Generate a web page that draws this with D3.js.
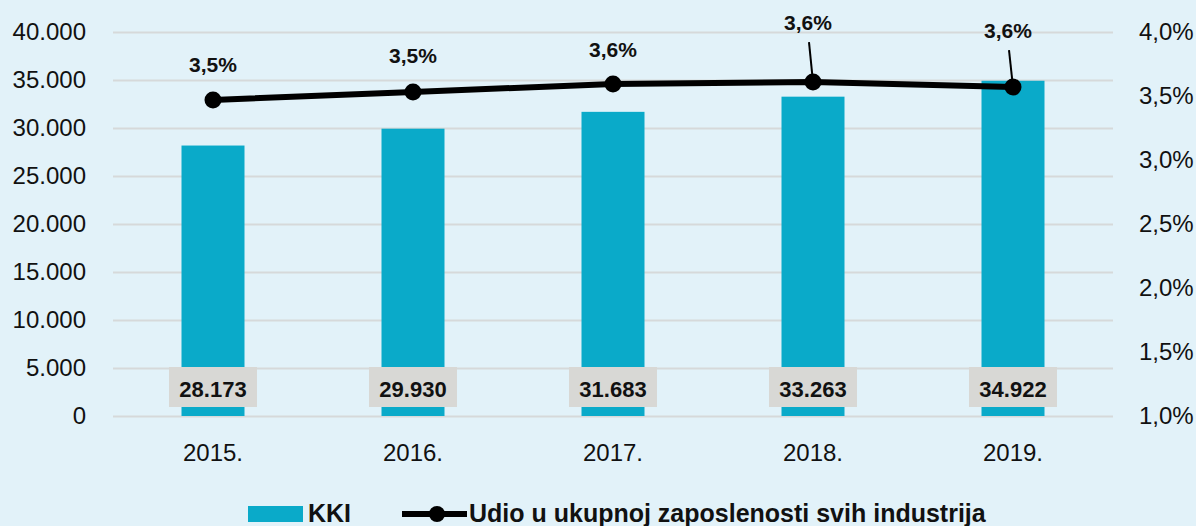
<!DOCTYPE html>
<html>
<head>
<meta charset="utf-8">
<script src="https://cdn.jsdelivr.net/npm/d3@7"></script>
<style>
  body { margin: 0; background: #e2f2f9; }
  svg { display: block; font-family: "Liberation Sans", Arial, sans-serif; }
  .axis text { fill: #111; font-size: 24px; }
  .grid line { stroke: #d6d9da; stroke-width: 2; }
</style>
</head>
<body>
<div id="chart"></div>
<script>
// Data
var years = ["2015.", "2016.", "2017.", "2018.", "2019."],
  kki = [28173, 29930, 31683, 33263, 34922],
  udio = [3.469, 3.531, 3.594, 3.609, 3.570],
  udioLabels = ["3,5%", "3,5%", "3,6%", "3,6%", "3,6%"],
  leftTicks = [0, 5000, 10000, 15000, 20000, 25000, 30000, 35000, 40000],
  rightTicks = [1.0, 1.5, 2.0, 2.5, 3.0, 3.5, 4.0];

// label offsets (the two last labels sit higher with leader lines)
var labelDy = [-28, -29, -27, -52, -49],
  leader = [false, false, false, true, true];

// Placement
var W = 1196, H = 526,
  pLeft = 113, pRight = 1113,
  pTop = 32, pBottom = 416;

var hr = d3.formatLocale({decimal: ",", thousands: ".", grouping: [3], currency: ["", ""]});
var fmtThousands = hr.format(",.0f"),
  fmtPct = hr.format(".1f");

var x = d3.scaleBand().domain(years).range([pLeft, pRight]);
var y = d3.scaleLinear().domain([0, 40000]).range([pBottom, pTop]);
var y2 = d3.scaleLinear().domain([1, 4]).range([pBottom, pTop]);

var barW = x.bandwidth() * 0.315;

var svg = d3.select("#chart")
  .append("svg")
  .attr("width", W)
  .attr("height", H);

svg.append("rect")
  .attr("width", W)
  .attr("height", H)
  .attr("fill", "#e2f2f9");

// gridlines
svg.append("g")
  .attr("class", "grid")
  .attr("transform", "translate(" + pLeft + ",0)")
  .call(d3.axisLeft(y).tickValues(leftTicks).tickSize(-(pRight - pLeft)).tickFormat(""))
  .select(".domain").remove();

// left axis
svg.append("g")
  .attr("class", "axis")
  .attr("transform", "translate(" + (pLeft - 27) + ",0)")
  .call(d3.axisLeft(y).tickValues(leftTicks).tickSize(0).tickPadding(0).tickFormat(fmtThousands))
  .call(function(g) { g.select(".domain").remove(); });

// right axis
svg.append("g")
  .attr("class", "axis")
  .attr("transform", "translate(" + (pRight + 26) + ",0)")
  .call(d3.axisRight(y2).tickValues(rightTicks).tickSize(0).tickPadding(0)
    .tickFormat(function(d) { return fmtPct(d) + "%"; }))
  .call(function(g) { g.select(".domain").remove(); });

// x axis labels
svg.append("g")
  .attr("class", "axis")
  .attr("transform", "translate(0," + (pBottom + 26) + ")")
  .call(d3.axisBottom(x).tickSize(0).tickPadding(0))
  .call(function(g) { g.select(".domain").remove(); })
  .selectAll("text").attr("dy", "0.8em");

// bars
svg.append("g").selectAll("rect")
  .data(kki)
  .enter().append("rect")
  .attr("x", function(d, i) { return x(years[i]) + x.bandwidth() / 2 - barW / 2; })
  .attr("y", function(d) { return y(d); })
  .attr("width", barW)
  .attr("height", function(d) { return pBottom - y(d); })
  .attr("fill", "#0aaac9");

// bar value labels
var bl = svg.append("g").selectAll("g")
  .data(kki)
  .enter().append("g")
  .attr("transform", function(d, i) { return "translate(" + (x(years[i]) + x.bandwidth() / 2) + "," + (pBottom - 28) + ")"; });

bl.append("rect")
  .attr("x", -44)
  .attr("y", -21)
  .attr("width", 88)
  .attr("height", 40)
  .attr("fill", "#d8d8d5");

bl.append("text")
  .attr("text-anchor", "middle")
  .attr("y", 9)
  .attr("font-size", "22px")
  .attr("font-weight", "bold")
  .attr("fill", "#111")
  .text(function(d) { return fmtThousands(d); });

// line
var cx = function(i) { return x(years[i]) + x.bandwidth() / 2; };

svg.append("path")
  .datum(udio)
  .attr("fill", "none")
  .attr("stroke", "#000")
  .attr("stroke-width", 6)
  .attr("d", d3.line()
    .x(function(d, i) { return cx(i); })
    .y(function(d) { return y2(d); }));

// leader lines
svg.append("g").selectAll("line")
  .data(udio.map(function(d, i) { return {v: d, i: i}; }).filter(function(d) { return leader[d.i]; }))
  .enter().append("line")
  .attr("x1", function(d) { return cx(d.i) - 4; })
  .attr("y1", function(d) { return y2(d.v) + labelDy[d.i] + 12; })
  .attr("x2", function(d) { return cx(d.i); })
  .attr("y2", function(d) { return y2(d.v); })
  .attr("stroke", "#000")
  .attr("stroke-width", 2);

svg.append("g").selectAll("circle")
  .data(udio)
  .enter().append("circle")
  .attr("cx", function(d, i) { return cx(i); })
  .attr("cy", function(d) { return y2(d); })
  .attr("r", 8.5)
  .attr("fill", "#000");

svg.append("g").selectAll("text")
  .data(udio)
  .enter().append("text")
  .attr("x", function(d, i) { return cx(i) - (leader[i] ? 5 : 0); })
  .attr("y", function(d, i) { return y2(d) + labelDy[i]; })
  .attr("text-anchor", "middle")
  .attr("font-size", "21px")
  .attr("font-weight", "bold")
  .attr("fill", "#111")
  .text(function(d, i) { return udioLabels[i]; });

// legend
var lg = svg.append("g").attr("transform", "translate(0,514)");

lg.append("rect")
  .attr("x", 248).attr("y", -8)
  .attr("width", 55).attr("height", 16)
  .attr("fill", "#0aaac9");

lg.append("text")
  .attr("x", 308).attr("y", 8)
  .attr("font-size", "25px").attr("font-weight", "bold").attr("fill", "#111")
  .text("KKI");

lg.append("line")
  .attr("x1", 402).attr("x2", 467)
  .attr("stroke", "#000").attr("stroke-width", 6);

lg.append("circle")
  .attr("cx", 437).attr("r", 8).attr("fill", "#000");

lg.append("text")
  .attr("x", 469).attr("y", 8)
  .attr("font-size", "25px").attr("font-weight", "bold").attr("fill", "#111")
  .text("Udio u ukupnoj zaposlenosti svih industrija");
</script>
</body>
</html>
